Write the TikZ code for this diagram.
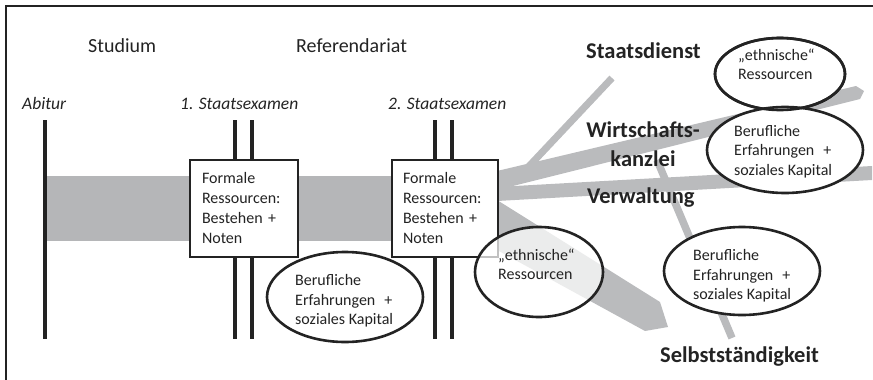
\documentclass[tikz,border=0pt]{standalone}
\usepackage{fontspec}
\setmainfont{Carlito}
\usetikzlibrary{shapes.geometric}
\definecolor{ink}{HTML}{232323}
\definecolor{bandgray}{HTML}{B5B6B8}
\definecolor{fangray}{HTML}{BABBBD}
\begin{document}
\begin{tikzpicture}[x=1pt,y=-1pt,
  phase/.style={font=\fontsize{20}{24}\selectfont, text=ink, inner sep=0, anchor=base west},
  exam/.style={font=\itshape\fontsize{17.5}{21}\selectfont, text=ink, inner sep=0, anchor=base west},
  resbox/.style={draw=ink, line width=2.8pt, fill=white, align=left, text width=84pt,
     font=\fontsize{16}{20}\selectfont, text=ink, inner sep=0, minimum height=97pt},
  oval/.style={ellipse, draw=ink, line width=2.6pt, fill=white, inner sep=0},
  ovaltext/.style={align=left, anchor=west, inner sep=0, font=\fontsize{16}{19.5}\selectfont, text=ink},
  career/.style={font=\bfseries\fontsize{22.5}{29}\selectfont, text=ink, inner sep=0},
  bar/.style={draw=ink, line width=3.2pt},
]
\useasboundingbox (0,0) rectangle (873,380);
% frame
\draw[ink, line width=2.6pt] (6,380) -- (6,6) -- (873,6);
% main band
\fill[bandgray] (46,176) rectangle (393,241);
% fan
\fill[fangray] (497,171) -- (856,86) -- (864,91) -- (860,99) -- (497,190) -- cycle;
\fill[fangray] (497,187) -- (872,166) -- (872,180) -- (497,201) -- cycle;
\fill[fangray] (497,200) -- (660,302) -- (668,327) -- (645,331) -- (497,250) -- cycle;
\draw[fangray, line width=7pt] (516,180) -- (612,78);
\draw[fangray, line width=7.5pt] (657,160) -- (732,338);
% timelines
\draw[bar] (45,120) -- (45,339);
\draw[bar] (235,120) -- (235,339);
\draw[bar] (252,120) -- (252,339);
\draw[bar] (435,120) -- (435,339);
\draw[bar] (452,120) -- (452,339);
% boxes
\node[resbox, minimum width=108pt] (box1) at (244,208.5) {Formale\\Ressourcen:\\Bestehen +\\Noten};
\node[resbox, minimum width=106pt] (box2) at (445,208.5) {Formale\\Ressourcen:\\Bestehen +\\Noten};
% ellipses
\node[oval, minimum width=156pt, minimum height=90pt] (e1) at (345,297) {};
\node[oval, minimum width=128pt, minimum height=90pt, fill opacity=0.72] (e2) at (539,272) {};
\node[oval, minimum width=130pt, minimum height=72pt] (e3) at (780,74) {};
\node[oval, minimum width=156pt, minimum height=86pt] (e4) at (785,150) {};
\node[oval, minimum width=156pt, minimum height=88pt] (e5) at (742,271) {};
\draw[ink, line width=2.6pt] (e3.center) ellipse [x radius=65pt, y radius=36pt];
% ellipse texts
\node[ovaltext] (t1) at (295,300.8) {Berufliche\\Erfahrungen\hspace{9pt}+\\soziales Kapital};
\node[ovaltext] (t2) at (498,264.4) {„ethnische“\\Ressourcen};
\node[ovaltext] (t3) at (738,64.4) {„ethnische“\\Ressourcen};
\node[ovaltext] (t4) at (734,151.3) {Berufliche\\Erfahrungen\hspace{9pt}+\\soziales Kapital};
\node[ovaltext] (t5) at (693,275.8) {Berufliche\\Erfahrungen\hspace{9pt}+\\soziales Kapital};
% phase labels
\node[phase] (studium) at (88,52) {Studium};
\node[phase] (referendariat) at (296,52) {Referendariat};
\node[exam] (abitur) at (22,109) {Abitur};
\node[exam] (ex1) at (180,109) {1. Staatsexamen};
\node[exam] (ex2) at (388,109) {2. Staatsexamen};
% career labels
\node[career, anchor=base west] (staat) at (586,58) {Staatsdienst};
\node[career, anchor=north, align=center] (wirt) at (643,122) {Wirtschafts-\\kanzlei};
\node[career, anchor=base west] (verw) at (587,203) {Verwaltung};
\node[career, anchor=base west] (selbst) at (660,362) {Selbstständigkeit};
\end{tikzpicture}
\end{document}
